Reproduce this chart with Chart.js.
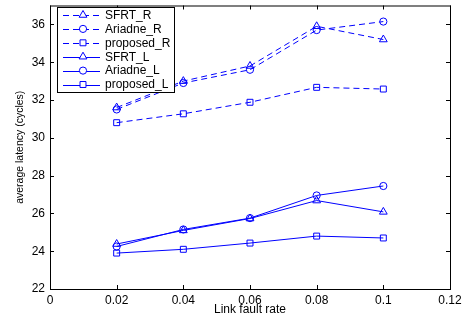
<!DOCTYPE html>
<html>
<head>
<meta charset="utf-8">
<script src="https://cdn.jsdelivr.net/npm/chart.js@4"></script>
<style>
body { margin: 0; background: #fff; }
#wrap { width: 464px; height: 325px; }
</style>
</head>
<body>
<div id="wrap"><canvas id="myChart" width="464" height="325"></canvas></div>
<script>
// data
var faultRates = [0.02, 0.04, 0.06, 0.08, 0.1];
var xTicks = [0, 0.02, 0.04, 0.06, 0.08, 0.1, 0.12];
var yTicks = [22, 24, 26, 28, 30, 32, 34, 36];

var sfrtR = [31.6, 33.0, 33.8, 35.9, 35.2];
var ariadneR = [31.5, 32.9, 33.6, 35.7, 36.15];
var proposedR = [30.8, 31.27, 31.88, 32.67, 32.58];
var sfrtL = [24.38, 25.1, 25.73, 26.68, 26.08];
var ariadneL = [24.25, 25.15, 25.75, 26.95, 27.45];
var proposedL = [23.9, 24.1, 24.43, 24.8, 24.7];

var seriesNames = ["SFRT_R", "Ariadne_R", "proposed_R", "SFRT_L", "Ariadne_L", "proposed_L"];
var seriesValues = [sfrtR, ariadneR, proposedR, sfrtL, ariadneL, proposedL];
var markers = ["triangle", "circle", "rect", "triangle", "circle", "rect"];
var markerSize = { triangle: 4.5, circle: 3.6, rect: 4.2 };

var blue = "#0000ff";
var font = "Liberation Sans, Arial, Helvetica, sans-serif";

function makePoints(values) {
    return values.map(function (v, i) { return { x: faultRates[i], y: v }; });
}

var datasets = seriesNames.map(function (name, i) {
    return {
        label: name,
        data: makePoints(seriesValues[i]),
        showLine: true,
        borderColor: blue,
        backgroundColor: "rgba(0,0,0,0)",
        borderWidth: 1,
        borderDash: i < 3 ? [6, 4] : [],
        pointStyle: markers[i],
        pointRadius: markerSize[markers[i]],
        pointBorderColor: blue,
        pointBackgroundColor: "rgba(0,0,0,0)",
        pointBorderWidth: 1
    };
});

// box, inward ticks and legend drawn like matlab
var matlabFrame = {
    id: "matlabFrame",
    afterDraw: function (chart) {
        var ctx = chart.ctx;
        var a = chart.chartArea;
        var xs = chart.scales.x;
        var ys = chart.scales.y;
        ctx.save();
        ctx.strokeStyle = "#000";
        ctx.lineWidth = 1;
        ctx.setLineDash([]);
        ctx.strokeRect(a.left + 0.5, a.top + 0.5, a.right - a.left, a.bottom - a.top);
        ctx.beginPath();
        xTicks.forEach(function (t) {
            var px = Math.round(xs.getPixelForValue(t)) + 0.5;
            ctx.moveTo(px, a.bottom); ctx.lineTo(px, a.bottom - 4);
            ctx.moveTo(px, a.top); ctx.lineTo(px, a.top + 4);
        });
        yTicks.forEach(function (t) {
            var py = Math.round(ys.getPixelForValue(t)) + 0.5;
            ctx.moveTo(a.left, py); ctx.lineTo(a.left + 4, py);
            ctx.moveTo(a.right, py); ctx.lineTo(a.right - 4, py);
        });
        ctx.stroke();

        // legend
        var lx = 57, ly = 7, lw = 117, lh = 85;
        ctx.fillStyle = "#fff";
        ctx.fillRect(lx, ly, lw, lh);
        ctx.strokeStyle = "#000";
        ctx.strokeRect(lx + 0.5, ly + 0.5, lw, lh);
        ctx.font = "12px " + font;
        ctx.textBaseline = "middle";
        seriesNames.forEach(function (name, i) {
            var ds = chart.data.datasets[i];
            var cy = 15 + i * 13.9;
            ctx.strokeStyle = blue;
            ctx.setLineDash(ds.borderDash);
            ctx.beginPath();
            ctx.moveTo(63, Math.round(cy) + 0.5);
            ctx.lineTo(100, Math.round(cy) + 0.5);
            ctx.stroke();
            ctx.setLineDash([]);
            ctx.fillStyle = "#fff";
            Chart.helpers.drawPoint(ctx, {
                pointStyle: ds.pointStyle,
                radius: ds.pointRadius,
                borderWidth: 1,
                rotation: 0
            }, 83, cy);
            ctx.fillStyle = "#000";
            ctx.fillText(name, 105, cy + 0.5);
        });
        ctx.restore();
    }
};

new Chart("myChart", {
    type: "scatter",
    data: { datasets: datasets },
    plugins: [matlabFrame],
    options: {
        responsive: false,
        animation: false,
        layout: { padding: { top: 1, right: 14, left: 0, bottom: 0 } },
        plugins: {
            legend: { display: false },
            tooltip: { enabled: false }
        },
        scales: {
            x: {
                type: "linear",
                min: 0,
                max: 0.12,
                afterBuildTicks: function (scale) {
                    scale.ticks = xTicks.map(function (v) { return { value: v }; });
                },
                afterFit: function (scale) {
                    scale.height = 36;
                    scale.paddingLeft = 0;
                    scale.paddingRight = 0;
                },
                grid: { display: false, drawTicks: false },
                border: { display: false },
                ticks: {
                    color: "#000",
                    padding: 4,
                    maxRotation: 0,
                    font: { family: font, size: 12 },
                    callback: function (v) { return String(Math.round(v * 100) / 100); }
                },
                title: {
                    display: true,
                    text: "Link fault rate",
                    color: "#000",
                    padding: { top: 0, bottom: 8 },
                    font: { family: font, size: 12 }
                }
            },
            y: {
                type: "linear",
                min: 22,
                max: 37,
                afterBuildTicks: function (scale) {
                    scale.ticks = yTicks.map(function (v) { return { value: v }; });
                },
                afterFit: function (scale) {
                    scale.width = 50;
                    scale.paddingTop = 0;
                    scale.paddingBottom = 0;
                },
                grid: { display: false, drawTicks: false },
                border: { display: false },
                ticks: {
                    color: "#000",
                    padding: 5,
                    font: { family: font, size: 12 }
                },
                title: {
                    display: true,
                    text: "average latency (cycles)",
                    color: "#000",
                    padding: { top: 14, bottom: 0 },
                    font: { family: font, size: 10.5 }
                }
            }
        }
    }
});
</script>
</body>
</html>
